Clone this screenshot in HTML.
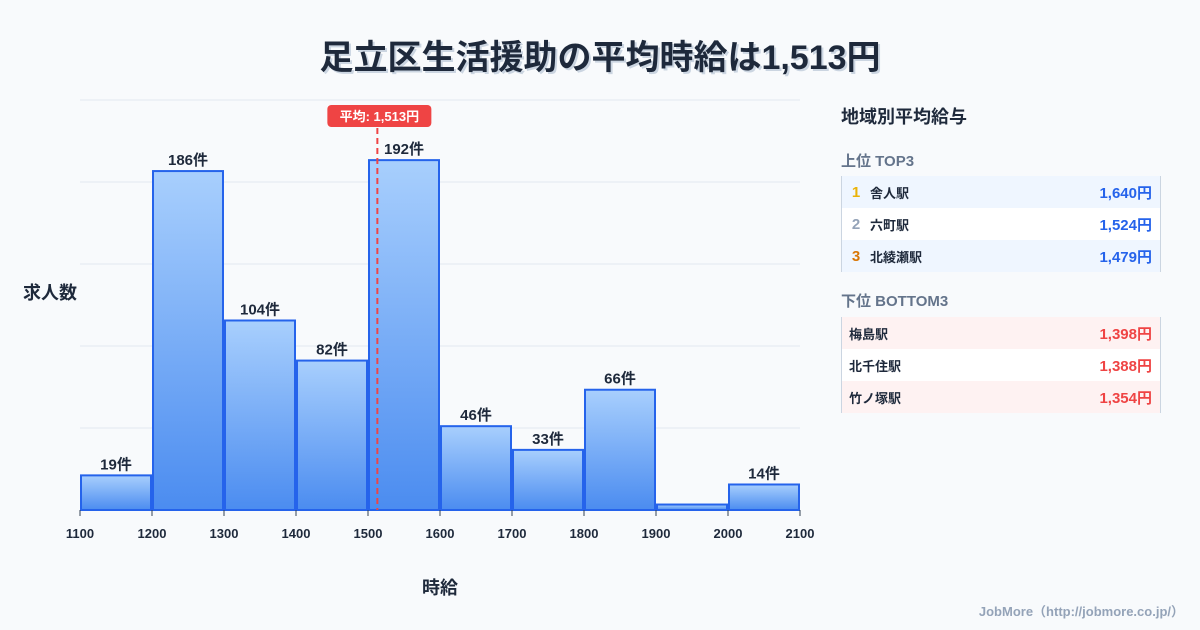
<!DOCTYPE html>
<html><head><meta charset="utf-8">
<style>
body{margin:0;width:1200px;height:630px;background:#f8fafc;font-family:"Liberation Sans","Noto Sans CJK JP",sans-serif;color:#1e293b;position:relative;overflow:hidden}
.title{position:absolute;top:30px;left:0;width:1200px;text-align:center;font-size:34px;font-weight:bold;color:#1e293b;text-shadow:2px 2px 0 #cbd5e1}
.side{position:absolute;left:841px;width:320px}
.row{height:32px;display:flex;align-items:center;font-size:13px;font-weight:bold;border-left:1px solid #cbd5e1;border-right:1px solid #cbd5e1;box-sizing:border-box}
.rk{width:28px;text-align:center;font-size:15px}
.nm{flex:1}
.val{padding-right:8px;font-size:15px}
.foot{position:absolute;right:16px;bottom:10px;font-size:13px;font-weight:bold;color:#94a3b8}
</style></head><body>
<div class="title">足立区生活援助の平均時給は1,513円</div>
<svg id="chart" width="820" height="630" style="position:absolute;left:0;top:0">
<defs><linearGradient id="g" x1="0" y1="0" x2="0" y2="1"><stop offset="0" stop-color="#a8cffd"/><stop offset="1" stop-color="#4b8cf0"/></linearGradient></defs>
</svg>
<div class="side" style="top:103px;font-size:18px;font-weight:bold">地域別平均給与</div>
<div class="side" style="top:150px;font-size:15px;font-weight:bold;color:#64748b">上位 TOP3</div>
<div class="side" style="top:176px">
<div class="row" style="background:#eff6ff"><span class="rk" style="color:#eab308">1</span><span class="nm">舎人駅</span><span class="val" style="color:#2563eb">1,640円</span></div>
<div class="row" style="background:#fff"><span class="rk" style="color:#94a3b8">2</span><span class="nm">六町駅</span><span class="val" style="color:#2563eb">1,524円</span></div>
<div class="row" style="background:#eff6ff"><span class="rk" style="color:#d97706">3</span><span class="nm">北綾瀬駅</span><span class="val" style="color:#2563eb">1,479円</span></div>
</div>
<div class="side" style="top:290px;font-size:15px;font-weight:bold;color:#64748b">下位 BOTTOM3</div>
<div class="side" style="top:317px">
<div class="row" style="background:#fef2f2;padding-left:7px"><span class="nm">梅島駅</span><span class="val" style="color:#ef4444">1,398円</span></div>
<div class="row" style="background:#fff;padding-left:7px"><span class="nm">北千住駅</span><span class="val" style="color:#ef4444">1,388円</span></div>
<div class="row" style="background:#fef2f2;padding-left:7px"><span class="nm">竹ノ塚駅</span><span class="val" style="color:#ef4444">1,354円</span></div>
</div>
<div class="foot">JobMore（http://jobmore.co.jp/）</div>
<script>
const binStarts=[1100,1200,1300,1400,1500,1600,1700,1800,1900,2000];
const counts=[19,186,104,82,192,46,33,66,3,14];
const showLabel=[true,true,true,true,true,true,true,true,false,true];
const xTicks=[1100,1200,1300,1400,1500,1600,1700,1800,1900,2000,2100];
const yGrid=[0,45,90,135,180,225];
const avgWage=1513;
const NS="http://www.w3.org/2000/svg";
const svg=document.getElementById('chart');
const X=v=>80+(v-1100)*0.72;
const Y=v=>510-v*(410/225);
function mk(t,a){const e=document.createElementNS(NS,t);for(const k in a)e.setAttribute(k,a[k]);svg.appendChild(e);return e;}
yGrid.forEach(g=>{const l=mk('line',{x1:80,x2:800,y1:Y(g),y2:Y(g),stroke:'#e2e8f0','stroke-width':1});

});
binStarts.forEach((b,i)=>{
 const x0=X(b)+1,x1=X(b+100)-1,y=Y(counts[i]);
 const r=mk('rect',{x:x0,y:y,width:x1-x0,height:510-y,fill:'url(#g)',stroke:'#2563eb','stroke-width':2});
 
 
 if(showLabel[i]){const t=mk('text',{x:(x0+x1)/2,y:y-6,'text-anchor':'middle','font-size':15,'font-weight':'bold',fill:'#1e293b'});t.textContent=counts[i]+'件';
 
 }
});
xTicks.forEach(v=>{mk('line',{x1:X(v),x2:X(v),y1:510,y2:516,stroke:'#334155'});
 const t=mk('text',{x:X(v),y:538,'text-anchor':'middle','font-size':13,'font-weight':'bold',fill:'#1e293b'});t.textContent=v;
 
 });
const ax=X(avgWage);
const al=mk('line',{x1:ax,x2:ax,y1:128,y2:510,stroke:'#ef4444','stroke-width':2,'stroke-dasharray':'6,4'});


const ab=mk('rect',{x:ax-50,y:105,width:104,height:22,rx:4,fill:'#ef4444'});


const at=mk('text',{x:ax+2,y:121,'text-anchor':'middle','font-size':13,'font-weight':'bold',fill:'#fff'});at.textContent='平均: '+avgWage.toLocaleString('en-US')+'円';


const yt=mk('text',{x:50,y:299,'text-anchor':'middle','font-size':18,'font-weight':'bold',fill:'#1e293b'});yt.textContent='求人数';


const xt=mk('text',{x:440,y:594,'text-anchor':'middle','font-size':18,'font-weight':'bold',fill:'#1e293b'});xt.textContent='時給';


</script>
</body></html>
